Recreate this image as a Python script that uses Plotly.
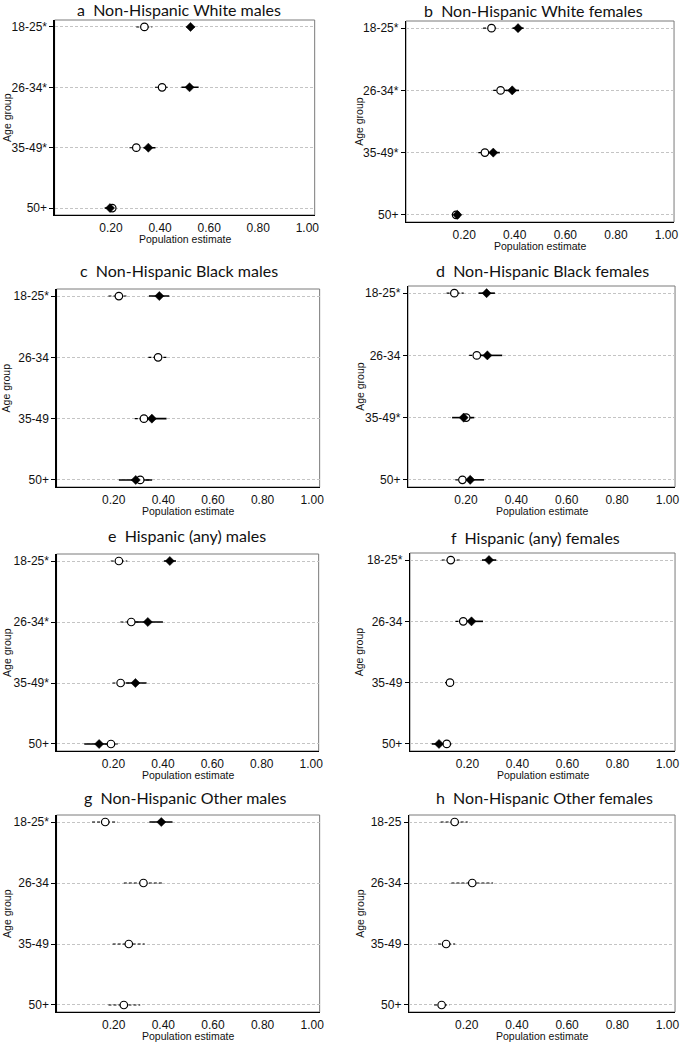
import plotly.graph_objects as go

PAGE_W, PAGE_H = 685, 1043
OFF = 0  # body margin removed via post_script below
W, H = PAGE_W - OFF, PAGE_H - OFF

panel_titles = [
    "a  Non-Hispanic White males",
    "b  Non-Hispanic White females",
    "c  Non-Hispanic Black males",
    "d  Non-Hispanic Black females",
    "e  Hispanic (any) males",
    "f  Hispanic (any) females",
    "g  Non-Hispanic Other males",
    "h  Non-Hispanic Other females",
]

y_labels = [
    ["18-25*", "26-34*", "35-49*", "50+"],  # a
    ["18-25*", "26-34*", "35-49*", "50+"],  # b
    ["18-25*", "26-34", "35-49", "50+"],    # c
    ["18-25*", "26-34", "35-49*", "50+"],   # d
    ["18-25*", "26-34*", "35-49*", "50+"],  # e
    ["18-25*", "26-34", "35-49", "50+"],    # f
    ["18-25*", "26-34", "35-49", "50+"],    # g
    ["18-25", "26-34", "35-49", "50+"],     # h
]

x_tick_vals = [0.2, 0.4, 0.6, 0.8, 1.0]
x_tick_text = ["0.20", "0.40", "0.60", "0.80", "1.00"]

# open-circle series: estimate and 95% CI
circle_est = [
    [0.336, 0.408, 0.303, 0.205],
    [0.308, 0.344, 0.282, 0.168],
    [0.221, 0.379, 0.322, 0.307],
    [0.154, 0.243, 0.201, 0.186],
    [0.222, 0.272, 0.229, 0.190],
    [0.133, 0.183, 0.130, 0.117],
    [0.166, 0.320, 0.261, 0.241],
    [0.152, 0.222, 0.118, 0.100],
]
circle_lo = [
    [0.303, 0.379, 0.275, 0.185],
    [0.275, 0.315, 0.256, 0.158],
    [0.179, 0.340, 0.285, 0.270],
    [0.123, 0.213, 0.178, 0.158],
    [0.189, 0.228, 0.196, 0.165],
    [0.097, 0.152, 0.110, 0.095],
    [0.113, 0.241, 0.196, 0.179],
    [0.096, 0.139, 0.086, 0.070],
]
circle_hi = [
    [0.368, 0.431, 0.319, 0.222],
    [0.334, 0.370, 0.300, 0.180],
    [0.258, 0.417, 0.355, 0.345],
    [0.191, 0.270, 0.225, 0.212],
    [0.256, 0.310, 0.262, 0.222],
    [0.170, 0.210, 0.150, 0.137],
    [0.215, 0.400, 0.325, 0.307],
    [0.204, 0.305, 0.154, 0.131],
]

# filled-diamond series: estimate and 95% CI
diamond_est = [
    [0.524, 0.520, 0.352, 0.196],
    [0.413, 0.390, 0.315, 0.173],
    [0.384, None, 0.354, 0.289],
    [0.282, 0.285, 0.191, 0.217],
    [0.428, 0.339, 0.289, 0.142],
    [0.286, 0.216, None, 0.086],
    [0.392, None, None, None],
    [None, None, None, None],
]
diamond_lo = [
    [0.508, 0.487, 0.332, 0.174],
    [0.391, 0.365, 0.295, 0.158],
    [0.342, None, 0.305, 0.221],
    [0.250, 0.256, 0.145, 0.190],
    [0.404, 0.280, 0.250, 0.082],
    [0.258, 0.190, None, 0.057],
    [0.344, None, None, None],
    [None, None, None, None],
]
diamond_hi = [
    [0.540, 0.557, 0.381, 0.220],
    [0.435, 0.417, 0.341, 0.186],
    [0.424, None, 0.413, 0.355],
    [0.315, 0.344, 0.233, 0.272],
    [0.453, 0.400, 0.334, 0.205],
    [0.315, 0.262, None, 0.115],
    [0.437, None, None, None],
    [None, None, None, None],
]

# layout in window pixels (left, right, top, bottom of each panel box)
boxes = [
    (55, 317, 20, 215), (409, 679, 21, 222),
    (57, 322, 289, 487), (411, 680, 286, 487),
    (57, 321, 554, 751), (413, 680, 553, 751),
    (57, 322, 815, 1012), (412, 680, 815, 1012),
]
title_pos = [(180, 9.5), (537, 10), (180, 271), (546, 270),
             (188, 535), (539, 537), (187, 797), (548, 797)]


def px(xp):
    return (xp - OFF) / W


def py(yp):
    return 1 - (yp - OFF) / H


TICK_FONT = dict(family="Liberation Sans, Arial, sans-serif", size=12, color="#111")
AX_FONT = dict(family="Liberation Sans, Arial, sans-serif", size=10.5, color="#111")
TITLE_FONT = dict(family="Lato, Open Sans, sans-serif", size=16, color="#111")


def ci_segments(labels, lo, hi):
    xs, ys = [], []
    for lab, a, b in zip(labels, lo, hi):
        if a is None or b is None:
            continue
        xs += [a, b, None]
        ys += [lab, lab, None]
    return xs, ys


fig = go.Figure()
layout = dict(
    width=W, height=H, margin=dict(l=0, r=0, t=0, b=0),
    paper_bgcolor="white", plot_bgcolor="white", showlegend=False,
    hovermode=False,
)
shapes, annotations = [], []

for i in range(8):
    n = "" if i == 0 else str(i + 1)
    xa, ya = "x" + n, "y" + n
    labels = y_labels[i]

    cx, cy = ci_segments(labels, circle_lo[i], circle_hi[i])
    fig.add_trace(go.Scatter(x=cx, y=cy, mode="lines", xaxis=xa, yaxis=ya,
                             line=dict(color="black", width=1.1, dash="3px,2px")))
    dx, dy = ci_segments(labels, diamond_lo[i], diamond_hi[i])
    if dx:
        fig.add_trace(go.Scatter(x=dx, y=dy, mode="lines", xaxis=xa, yaxis=ya,
                                 line=dict(color="black", width=1.6)))
    fig.add_trace(go.Scatter(x=circle_est[i], y=labels, mode="markers", xaxis=xa, yaxis=ya,
                             marker=dict(symbol="circle", size=7.5, color="white",
                                         line=dict(color="black", width=1.2))))
    pts = [(v, lab) for v, lab in zip(diamond_est[i], labels) if v is not None]
    if pts:
        fig.add_trace(go.Scatter(x=[p[0] for p in pts], y=[p[1] for p in pts],
                                 mode="markers", xaxis=xa, yaxis=ya,
                                 marker=dict(symbol="diamond", size=7, color="black",
                                             line=dict(color="black", width=0.5))))

    x0, x1, y0, y1 = boxes[i]
    layout["xaxis" + n] = dict(
        domain=[px(x0), px(x1)], anchor=ya, range=[-0.03, 1.03],
        tickvals=x_tick_vals, ticktext=x_tick_text, tickfont=TICK_FONT,
        showgrid=False, zeroline=False, showline=True, linecolor="black", linewidth=1.2,
        ticks="outside", ticklen=1, tickcolor="rgba(0,0,0,0)",
    )
    layout["yaxis" + n] = dict(
        domain=[py(y1), py(y0)], anchor=xa, type="category",
        categoryorder="array", categoryarray=labels[::-1], range=[-0.115, 3.115],
        tickfont=TICK_FONT, showgrid=True, gridcolor="#c4c4c4", griddash="3px,2px",
        gridwidth=1, zeroline=False, showline=True, linecolor="black", linewidth=1.2,
        ticks="outside", ticklen=4, tickcolor="black", tickwidth=1,
    )
    shapes.append(dict(type="rect", xref=xa + " domain", yref=ya + " domain",
                       x0=0, x1=1, y0=0, y1=1, layer="below",
                       line=dict(color="#7a7a7a", width=1)))
    tx, ty = title_pos[i]
    annotations.append(dict(text=panel_titles[i], x=px(tx), y=py(ty),
                            xref="paper", yref="paper", showarrow=False,
                            xanchor="center", yanchor="middle", font=TITLE_FONT))
    annotations.append(dict(text="Age group", x=px(6.5 if x0 < 200 else 362),
                            y=py((y0 + y1) / 2), xref="paper", yref="paper",
                            showarrow=False, textangle=-90, xanchor="center",
                            yanchor="middle", font=AX_FONT))
    annotations.append(dict(text="Population estimate", x=px((x0 + x1) / 2),
                            y=py(y1 + 24), xref="paper", yref="paper",
                            showarrow=False, xanchor="center", yanchor="middle",
                            font=AX_FONT))

layout["shapes"] = shapes
layout["annotations"] = annotations
fig.update_layout(**layout)
fig.write_html("out.html",
               config={"displayModeBar": False, "staticPlot": True},
               post_script="document.body.style.margin='0';document.body.style.overflow='hidden';")
